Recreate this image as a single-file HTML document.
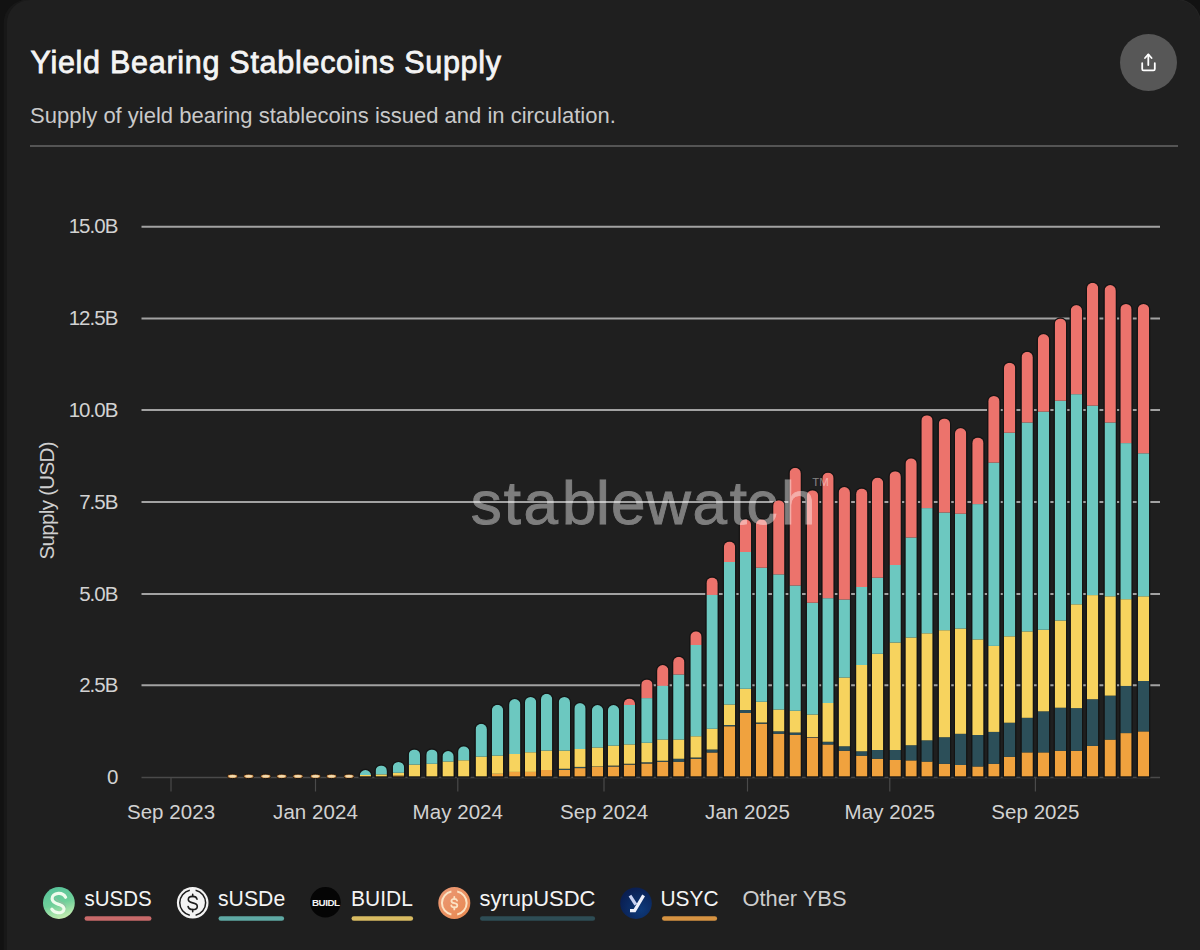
<!DOCTYPE html>
<html><head><meta charset="utf-8"><style>
html,body{margin:0;padding:0;background:#111;}
body{width:1200px;height:950px;overflow:hidden;position:relative;font-family:"Liberation Sans",sans-serif;}
.edge{position:absolute;left:0;top:0;width:1200px;height:950px;background:#121212;}
.card{position:absolute;left:6.8px;top:0px;width:1193.2px;height:1000px;background:#1f1f1f;border-radius:23px;box-shadow:-3.3px 0 0 #181818, 0 0 0 0.8px #262626;}
.title{position:absolute;left:30.5px;top:45px;color:#f4f4f4;font-size:30.5px;-webkit-text-stroke:0.8px #f4f4f4;letter-spacing:0.72px;white-space:nowrap;}
.sub{position:absolute;left:30px;top:102.5px;color:#c9c9c9;font-size:22px;letter-spacing:0px;white-space:nowrap;}
.rule{position:absolute;left:30px;top:144.5px;width:1147.5px;height:2px;background:#545454;}
.share{position:absolute;left:1120px;top:33.5px;width:57px;height:57px;border-radius:50%;background:#575757;}
svg.chart{position:absolute;left:0;top:0;}
.legend{position:absolute;left:0;top:0;}
</style></head><body>
<div class="edge"></div>
<div class="card"></div>
<div class="title">Yield Bearing Stablecoins Supply</div>
<div class="sub">Supply of yield bearing stablecoins issued and in circulation.</div>
<div class="rule"></div>
<div class="share"><svg width="57" height="57" viewBox="0 0 57 57"><g fill="none" stroke="#fff" stroke-width="1.8" stroke-linecap="round" stroke-linejoin="round"><path d="M22.2 29.2 V35 Q22.2 36.4 23.6 36.4 H33.4 Q34.8 36.4 34.8 35 V29.2"/><path d="M28.3 31 V20.6"/><path d="M25 24 L28.3 20.4 L31.6 24"/></g></svg></div>
<svg class="chart" width="1200" height="950" viewBox="0 0 1200 950">
<g><line x1="141.5" y1="226.7" x2="1160" y2="226.7" stroke="#a2a2a2" stroke-width="2"/><line x1="141.5" y1="318.6" x2="1160" y2="318.6" stroke="#a2a2a2" stroke-width="2"/><line x1="141.5" y1="410.1" x2="1160" y2="410.1" stroke="#a2a2a2" stroke-width="2"/><line x1="141.5" y1="502.0" x2="1160" y2="502.0" stroke="#a2a2a2" stroke-width="2"/><line x1="141.5" y1="594.0" x2="1160" y2="594.0" stroke="#a2a2a2" stroke-width="2"/><line x1="141.5" y1="685.3" x2="1160" y2="685.3" stroke="#a2a2a2" stroke-width="2"/></g>
<line x1="141.5" y1="777.5" x2="1160" y2="777.5" stroke="#4a4a4a" stroke-width="1.5"/>
<line x1="171" y1="777.5" x2="171" y2="791.5" stroke="#4a4a4a" stroke-width="1.2"/><line x1="315.5" y1="777.5" x2="315.5" y2="791.5" stroke="#4a4a4a" stroke-width="1.2"/><line x1="457.8" y1="777.5" x2="457.8" y2="791.5" stroke="#4a4a4a" stroke-width="1.2"/><line x1="604" y1="777.5" x2="604" y2="791.5" stroke="#4a4a4a" stroke-width="1.2"/><line x1="747.5" y1="777.5" x2="747.5" y2="791.5" stroke="#4a4a4a" stroke-width="1.2"/><line x1="889.8" y1="777.5" x2="889.8" y2="791.5" stroke="#4a4a4a" stroke-width="1.2"/><line x1="1035.4" y1="777.5" x2="1035.4" y2="791.5" stroke="#4a4a4a" stroke-width="1.2"/>
<g fill="#d2d2d2" font-family="Liberation Sans" font-size="20.5" letter-spacing="-0.95"><text x="117.5" y="233.3" text-anchor="end">15.0B</text><text x="117.5" y="325.2" text-anchor="end">12.5B</text><text x="117.5" y="416.7" text-anchor="end">10.0B</text><text x="117.5" y="508.6" text-anchor="end">7.5B</text><text x="117.5" y="600.6" text-anchor="end">5.0B</text><text x="117.5" y="691.9" text-anchor="end">2.5B</text><text x="117.5" y="784.2" text-anchor="end">0</text></g>
<text transform="translate(54.2 500.8) rotate(-90)" text-anchor="middle" fill="#cfcfcf" font-family="Liberation Sans" font-size="20.6" letter-spacing="-0.72">Supply (USD)</text>
<g fill="#d2d2d2" font-family="Liberation Sans" font-size="20.5" letter-spacing="0.05"><text x="171" y="819" text-anchor="middle">Sep 2023</text><text x="315.5" y="819" text-anchor="middle">Jan 2024</text><text x="457.8" y="819" text-anchor="middle">May 2024</text><text x="604" y="819" text-anchor="middle">Sep 2024</text><text x="747.5" y="819" text-anchor="middle">Jan 2025</text><text x="889.8" y="819" text-anchor="middle">May 2025</text><text x="1035.4" y="819" text-anchor="middle">Sep 2025</text></g>
<defs></defs>
<ellipse cx="232.50" cy="776.3" rx="5.2" ry="2.3" fill="#c98a48" stroke="#1a1410" stroke-width="1"/><ellipse cx="232.50" cy="776.3" rx="3.6" ry="1.3" fill="#f2dcb0"/>
<ellipse cx="248.75" cy="776.3" rx="5.2" ry="2.3" fill="#c98a48" stroke="#1a1410" stroke-width="1"/><ellipse cx="248.75" cy="776.3" rx="3.6" ry="1.3" fill="#f2dcb0"/>
<ellipse cx="265.75" cy="776.3" rx="5.2" ry="2.3" fill="#c98a48" stroke="#1a1410" stroke-width="1"/><ellipse cx="265.75" cy="776.3" rx="3.6" ry="1.3" fill="#f2dcb0"/>
<ellipse cx="281.75" cy="776.3" rx="5.2" ry="2.3" fill="#c98a48" stroke="#1a1410" stroke-width="1"/><ellipse cx="281.75" cy="776.3" rx="3.6" ry="1.3" fill="#f2dcb0"/>
<ellipse cx="298.00" cy="776.3" rx="5.2" ry="2.3" fill="#c98a48" stroke="#1a1410" stroke-width="1"/><ellipse cx="298.00" cy="776.3" rx="3.6" ry="1.3" fill="#f2dcb0"/>
<ellipse cx="315.50" cy="776.3" rx="5.2" ry="2.3" fill="#c98a48" stroke="#1a1410" stroke-width="1"/><ellipse cx="315.50" cy="776.3" rx="3.6" ry="1.3" fill="#f2dcb0"/>
<ellipse cx="331.50" cy="776.3" rx="5.2" ry="2.3" fill="#c98a48" stroke="#1a1410" stroke-width="1"/><ellipse cx="331.50" cy="776.3" rx="3.6" ry="1.3" fill="#f2dcb0"/>
<ellipse cx="349.00" cy="776.3" rx="5.2" ry="2.3" fill="#c98a48" stroke="#1a1410" stroke-width="1"/><ellipse cx="349.00" cy="776.3" rx="3.6" ry="1.3" fill="#f2dcb0"/>
<path d="M359.75 776.6 V775.65 A5.65 5.65 0 0 1 371.05 775.65 V776.6 Z" fill="none" stroke="#141414" stroke-width="2.4"/><clipPath id="cb8"><path d="M359.75 776.6 V775.65 A5.65 5.65 0 0 1 371.05 775.65 V776.6 Z"/></clipPath><g clip-path="url(#cb8)"><rect x="359.75" y="775.00" width="11.3" height="1.60" fill="#f7d35e"/><rect x="359.75" y="770.00" width="11.3" height="5.00" fill="#6cc8c0"/></g>
<path d="M375.60 776.6 V771.05 A5.65 5.65 0 0 1 386.90 771.05 V776.6 Z" fill="none" stroke="#141414" stroke-width="2.4"/><clipPath id="cb9"><path d="M375.60 776.6 V771.05 A5.65 5.65 0 0 1 386.90 771.05 V776.6 Z"/></clipPath><g clip-path="url(#cb9)"><rect x="375.60" y="774.40" width="11.3" height="2.20" fill="#f7d35e"/><rect x="375.60" y="765.40" width="11.3" height="9.00" fill="#6cc8c0"/></g>
<path d="M392.85 776.6 V767.55 A5.65 5.65 0 0 1 404.15 767.55 V776.6 Z" fill="none" stroke="#141414" stroke-width="2.4"/><clipPath id="cb10"><path d="M392.85 776.6 V767.55 A5.65 5.65 0 0 1 404.15 767.55 V776.6 Z"/></clipPath><g clip-path="url(#cb10)"><rect x="392.85" y="775.50" width="11.3" height="1.10" fill="#f0a23e"/><rect x="392.85" y="772.75" width="11.3" height="2.75" fill="#f7d35e"/><rect x="392.85" y="761.90" width="11.3" height="10.85" fill="#6cc8c0"/></g>
<path d="M408.75 776.6 V755.05 A5.65 5.65 0 0 1 420.05 755.05 V776.6 Z" fill="none" stroke="#141414" stroke-width="2.4"/><clipPath id="cb11"><path d="M408.75 776.6 V755.05 A5.65 5.65 0 0 1 420.05 755.05 V776.6 Z"/></clipPath><g clip-path="url(#cb11)"><rect x="408.75" y="764.60" width="11.3" height="12.00" fill="#f7d35e"/><rect x="408.75" y="749.40" width="11.3" height="15.20" fill="#6cc8c0"/></g>
<path d="M426.25 776.6 V755.05 A5.65 5.65 0 0 1 437.55 755.05 V776.6 Z" fill="none" stroke="#141414" stroke-width="2.4"/><clipPath id="cb12"><path d="M426.25 776.6 V755.05 A5.65 5.65 0 0 1 437.55 755.05 V776.6 Z"/></clipPath><g clip-path="url(#cb12)"><rect x="426.25" y="763.75" width="11.3" height="12.85" fill="#f7d35e"/><rect x="426.25" y="749.40" width="11.3" height="14.35" fill="#6cc8c0"/></g>
<path d="M442.45 776.6 V756.65 A5.65 5.65 0 0 1 453.75 756.65 V776.6 Z" fill="none" stroke="#141414" stroke-width="2.4"/><clipPath id="cb13"><path d="M442.45 776.6 V756.65 A5.65 5.65 0 0 1 453.75 756.65 V776.6 Z"/></clipPath><g clip-path="url(#cb13)"><rect x="442.45" y="761.50" width="11.3" height="15.10" fill="#f7d35e"/><rect x="442.45" y="751.00" width="11.3" height="10.50" fill="#6cc8c0"/></g>
<path d="M458.10 776.6 V751.90 A5.65 5.65 0 0 1 469.40 751.90 V776.6 Z" fill="none" stroke="#141414" stroke-width="2.4"/><clipPath id="cb14"><path d="M458.10 776.6 V751.90 A5.65 5.65 0 0 1 469.40 751.90 V776.6 Z"/></clipPath><g clip-path="url(#cb14)"><rect x="458.10" y="760.25" width="11.3" height="16.35" fill="#f7d35e"/><rect x="458.10" y="746.25" width="11.3" height="14.00" fill="#6cc8c0"/></g>
<path d="M475.60 776.6 V729.40 A5.65 5.65 0 0 1 486.90 729.40 V776.6 Z" fill="none" stroke="#141414" stroke-width="2.4"/><clipPath id="cb15"><path d="M475.60 776.6 V729.40 A5.65 5.65 0 0 1 486.90 729.40 V776.6 Z"/></clipPath><g clip-path="url(#cb15)"><rect x="475.60" y="756.60" width="11.3" height="20.00" fill="#f7d35e"/><rect x="475.60" y="723.75" width="11.3" height="32.85" fill="#6cc8c0"/></g>
<path d="M491.85 776.6 V710.40 A5.65 5.65 0 0 1 503.15 710.40 V776.6 Z" fill="none" stroke="#141414" stroke-width="2.4"/><clipPath id="cb16"><path d="M491.85 776.6 V710.40 A5.65 5.65 0 0 1 503.15 710.40 V776.6 Z"/></clipPath><g clip-path="url(#cb16)"><rect x="491.85" y="773.75" width="11.3" height="2.85" fill="#f0a23e"/><rect x="491.85" y="755.60" width="11.3" height="18.15" fill="#f7d35e"/><rect x="491.85" y="704.75" width="11.3" height="50.85" fill="#6cc8c0"/></g>
<path d="M509.10 776.6 V704.65 A5.65 5.65 0 0 1 520.40 704.65 V776.6 Z" fill="none" stroke="#141414" stroke-width="2.4"/><clipPath id="cb17"><path d="M509.10 776.6 V704.65 A5.65 5.65 0 0 1 520.40 704.65 V776.6 Z"/></clipPath><g clip-path="url(#cb17)"><rect x="509.10" y="771.90" width="11.3" height="4.70" fill="#f0a23e"/><rect x="509.10" y="754.00" width="11.3" height="17.90" fill="#f7d35e"/><rect x="509.10" y="699.00" width="11.3" height="55.00" fill="#6cc8c0"/></g>
<path d="M524.95 776.6 V702.55 A5.65 5.65 0 0 1 536.25 702.55 V776.6 Z" fill="none" stroke="#141414" stroke-width="2.4"/><clipPath id="cb18"><path d="M524.95 776.6 V702.55 A5.65 5.65 0 0 1 536.25 702.55 V776.6 Z"/></clipPath><g clip-path="url(#cb18)"><rect x="524.95" y="771.90" width="11.3" height="4.70" fill="#f0a23e"/><rect x="524.95" y="752.25" width="11.3" height="19.65" fill="#f7d35e"/><rect x="524.95" y="696.90" width="11.3" height="55.35" fill="#6cc8c0"/></g>
<path d="M540.95 776.6 V699.40 A5.65 5.65 0 0 1 552.25 699.40 V776.6 Z" fill="none" stroke="#141414" stroke-width="2.4"/><clipPath id="cb19"><path d="M540.95 776.6 V699.40 A5.65 5.65 0 0 1 552.25 699.40 V776.6 Z"/></clipPath><g clip-path="url(#cb19)"><rect x="540.95" y="770.00" width="11.3" height="6.60" fill="#f0a23e"/><rect x="540.95" y="750.60" width="11.3" height="19.40" fill="#f7d35e"/><rect x="540.95" y="693.75" width="11.3" height="56.85" fill="#6cc8c0"/></g>
<path d="M558.75 776.6 V702.55 A5.65 5.65 0 0 1 570.05 702.55 V776.6 Z" fill="none" stroke="#141414" stroke-width="2.4"/><clipPath id="cb20"><path d="M558.75 776.6 V702.55 A5.65 5.65 0 0 1 570.05 702.55 V776.6 Z"/></clipPath><g clip-path="url(#cb20)"><rect x="558.75" y="770.00" width="11.3" height="6.60" fill="#f0a23e"/><rect x="558.75" y="768.75" width="11.3" height="1.25" fill="#2c4f59"/><rect x="558.75" y="750.60" width="11.3" height="18.15" fill="#f7d35e"/><rect x="558.75" y="696.90" width="11.3" height="53.70" fill="#6cc8c0"/></g>
<path d="M574.35 776.6 V708.75 A5.65 5.65 0 0 1 585.65 708.75 V776.6 Z" fill="none" stroke="#141414" stroke-width="2.4"/><clipPath id="cb21"><path d="M574.35 776.6 V708.75 A5.65 5.65 0 0 1 585.65 708.75 V776.6 Z"/></clipPath><g clip-path="url(#cb21)"><rect x="574.35" y="768.10" width="11.3" height="8.50" fill="#f0a23e"/><rect x="574.35" y="766.90" width="11.3" height="1.20" fill="#2c4f59"/><rect x="574.35" y="749.00" width="11.3" height="17.90" fill="#f7d35e"/><rect x="574.35" y="703.10" width="11.3" height="45.90" fill="#6cc8c0"/></g>
<path d="M591.85 776.6 V710.65 A5.65 5.65 0 0 1 603.15 710.65 V776.6 Z" fill="none" stroke="#141414" stroke-width="2.4"/><clipPath id="cb22"><path d="M591.85 776.6 V710.65 A5.65 5.65 0 0 1 603.15 710.65 V776.6 Z"/></clipPath><g clip-path="url(#cb22)"><rect x="591.85" y="766.90" width="11.3" height="9.70" fill="#f0a23e"/><rect x="591.85" y="766.50" width="11.3" height="0.40" fill="#2c4f59"/><rect x="591.85" y="747.50" width="11.3" height="19.00" fill="#f7d35e"/><rect x="591.85" y="705.00" width="11.3" height="42.50" fill="#6cc8c0"/></g>
<path d="M607.85 776.6 V710.65 A5.65 5.65 0 0 1 619.15 710.65 V776.6 Z" fill="none" stroke="#141414" stroke-width="2.4"/><clipPath id="cb23"><path d="M607.85 776.6 V710.65 A5.65 5.65 0 0 1 619.15 710.65 V776.6 Z"/></clipPath><g clip-path="url(#cb23)"><rect x="607.85" y="766.50" width="11.3" height="10.10" fill="#f0a23e"/><rect x="607.85" y="765.60" width="11.3" height="0.90" fill="#2c4f59"/><rect x="607.85" y="745.60" width="11.3" height="20.00" fill="#f7d35e"/><rect x="607.85" y="705.00" width="11.3" height="40.60" fill="#6cc8c0"/></g>
<path d="M623.75 776.6 V704.15 A5.65 5.65 0 0 1 635.05 704.15 V776.6 Z" fill="none" stroke="#141414" stroke-width="2.4"/><clipPath id="cb24"><path d="M623.75 776.6 V704.15 A5.65 5.65 0 0 1 635.05 704.15 V776.6 Z"/></clipPath><g clip-path="url(#cb24)"><rect x="623.75" y="764.60" width="11.3" height="12.00" fill="#f0a23e"/><rect x="623.75" y="763.75" width="11.3" height="0.85" fill="#2c4f59"/><rect x="623.75" y="744.40" width="11.3" height="19.35" fill="#f7d35e"/><rect x="623.75" y="705.00" width="11.3" height="39.40" fill="#6cc8c0"/><rect x="623.75" y="698.50" width="11.3" height="6.50" fill="#ec736c"/></g>
<path d="M641.25 776.6 V685.05 A5.65 5.65 0 0 1 652.55 685.05 V776.6 Z" fill="none" stroke="#141414" stroke-width="2.4"/><clipPath id="cb25"><path d="M641.25 776.6 V685.05 A5.65 5.65 0 0 1 652.55 685.05 V776.6 Z"/></clipPath><g clip-path="url(#cb25)"><rect x="641.25" y="763.50" width="11.3" height="13.10" fill="#f0a23e"/><rect x="641.25" y="762.25" width="11.3" height="1.25" fill="#2c4f59"/><rect x="641.25" y="742.75" width="11.3" height="19.50" fill="#f7d35e"/><rect x="641.25" y="698.10" width="11.3" height="44.65" fill="#6cc8c0"/><rect x="641.25" y="679.40" width="11.3" height="18.70" fill="#ec736c"/></g>
<path d="M657.10 776.6 V670.65 A5.65 5.65 0 0 1 668.40 670.65 V776.6 Z" fill="none" stroke="#141414" stroke-width="2.4"/><clipPath id="cb26"><path d="M657.10 776.6 V670.65 A5.65 5.65 0 0 1 668.40 670.65 V776.6 Z"/></clipPath><g clip-path="url(#cb26)"><rect x="657.10" y="761.75" width="11.3" height="14.85" fill="#f0a23e"/><rect x="657.10" y="760.75" width="11.3" height="1.00" fill="#2c4f59"/><rect x="657.10" y="739.50" width="11.3" height="21.25" fill="#f7d35e"/><rect x="657.10" y="685.75" width="11.3" height="53.75" fill="#6cc8c0"/><rect x="657.10" y="665.00" width="11.3" height="20.75" fill="#ec736c"/></g>
<path d="M673.15 776.6 V662.40 A5.65 5.65 0 0 1 684.45 662.40 V776.6 Z" fill="none" stroke="#141414" stroke-width="2.4"/><clipPath id="cb27"><path d="M673.15 776.6 V662.40 A5.65 5.65 0 0 1 684.45 662.40 V776.6 Z"/></clipPath><g clip-path="url(#cb27)"><rect x="673.15" y="761.75" width="11.3" height="14.85" fill="#f0a23e"/><rect x="673.15" y="758.75" width="11.3" height="3.00" fill="#2c4f59"/><rect x="673.15" y="739.50" width="11.3" height="19.25" fill="#f7d35e"/><rect x="673.15" y="674.50" width="11.3" height="65.00" fill="#6cc8c0"/><rect x="673.15" y="656.75" width="11.3" height="17.75" fill="#ec736c"/></g>
<path d="M690.35 776.6 V636.90 A5.65 5.65 0 0 1 701.65 636.90 V776.6 Z" fill="none" stroke="#141414" stroke-width="2.4"/><clipPath id="cb28"><path d="M690.35 776.6 V636.90 A5.65 5.65 0 0 1 701.65 636.90 V776.6 Z"/></clipPath><g clip-path="url(#cb28)"><rect x="690.35" y="758.75" width="11.3" height="17.85" fill="#f0a23e"/><rect x="690.35" y="757.50" width="11.3" height="1.25" fill="#2c4f59"/><rect x="690.35" y="736.25" width="11.3" height="21.25" fill="#f7d35e"/><rect x="690.35" y="645.00" width="11.3" height="91.25" fill="#6cc8c0"/><rect x="690.35" y="631.25" width="11.3" height="13.75" fill="#ec736c"/></g>
<path d="M706.45 776.6 V583.15 A5.65 5.65 0 0 1 717.75 583.15 V776.6 Z" fill="none" stroke="#141414" stroke-width="2.4"/><clipPath id="cb29"><path d="M706.45 776.6 V583.15 A5.65 5.65 0 0 1 717.75 583.15 V776.6 Z"/></clipPath><g clip-path="url(#cb29)"><rect x="706.45" y="752.50" width="11.3" height="24.10" fill="#f0a23e"/><rect x="706.45" y="749.50" width="11.3" height="3.00" fill="#2c4f59"/><rect x="706.45" y="728.75" width="11.3" height="20.75" fill="#f7d35e"/><rect x="706.45" y="594.90" width="11.3" height="133.85" fill="#6cc8c0"/><rect x="706.45" y="577.50" width="11.3" height="17.40" fill="#ec736c"/></g>
<path d="M723.85 776.6 V547.15 A5.65 5.65 0 0 1 735.15 547.15 V776.6 Z" fill="none" stroke="#141414" stroke-width="2.4"/><clipPath id="cb30"><path d="M723.85 776.6 V547.15 A5.65 5.65 0 0 1 735.15 547.15 V776.6 Z"/></clipPath><g clip-path="url(#cb30)"><rect x="723.85" y="726.25" width="11.3" height="50.35" fill="#f0a23e"/><rect x="723.85" y="725.00" width="11.3" height="1.25" fill="#2c4f59"/><rect x="723.85" y="704.50" width="11.3" height="20.50" fill="#f7d35e"/><rect x="723.85" y="562.00" width="11.3" height="142.50" fill="#6cc8c0"/><rect x="723.85" y="541.50" width="11.3" height="20.50" fill="#ec736c"/></g>
<path d="M739.85 776.6 V524.95 A5.65 5.65 0 0 1 751.15 524.95 V776.6 Z" fill="none" stroke="#141414" stroke-width="2.4"/><clipPath id="cb31"><path d="M739.85 776.6 V524.95 A5.65 5.65 0 0 1 751.15 524.95 V776.6 Z"/></clipPath><g clip-path="url(#cb31)"><rect x="739.85" y="713.00" width="11.3" height="63.60" fill="#f0a23e"/><rect x="739.85" y="710.00" width="11.3" height="3.00" fill="#2c4f59"/><rect x="739.85" y="688.75" width="11.3" height="21.25" fill="#f7d35e"/><rect x="739.85" y="552.00" width="11.3" height="136.75" fill="#6cc8c0"/><rect x="739.85" y="519.30" width="11.3" height="32.70" fill="#ec736c"/></g>
<path d="M755.85 776.6 V524.95 A5.65 5.65 0 0 1 767.15 524.95 V776.6 Z" fill="none" stroke="#141414" stroke-width="2.4"/><clipPath id="cb32"><path d="M755.85 776.6 V524.95 A5.65 5.65 0 0 1 767.15 524.95 V776.6 Z"/></clipPath><g clip-path="url(#cb32)"><rect x="755.85" y="723.75" width="11.3" height="52.85" fill="#f0a23e"/><rect x="755.85" y="722.50" width="11.3" height="1.25" fill="#2c4f59"/><rect x="755.85" y="701.75" width="11.3" height="20.75" fill="#f7d35e"/><rect x="755.85" y="567.70" width="11.3" height="134.05" fill="#6cc8c0"/><rect x="755.85" y="519.30" width="11.3" height="48.40" fill="#ec736c"/></g>
<path d="M773.15 776.6 V505.85 A5.65 5.65 0 0 1 784.45 505.85 V776.6 Z" fill="none" stroke="#141414" stroke-width="2.4"/><clipPath id="cb33"><path d="M773.15 776.6 V505.85 A5.65 5.65 0 0 1 784.45 505.85 V776.6 Z"/></clipPath><g clip-path="url(#cb33)"><rect x="773.15" y="733.75" width="11.3" height="42.85" fill="#f0a23e"/><rect x="773.15" y="731.25" width="11.3" height="2.50" fill="#2c4f59"/><rect x="773.15" y="709.50" width="11.3" height="21.75" fill="#f7d35e"/><rect x="773.15" y="574.40" width="11.3" height="135.10" fill="#6cc8c0"/><rect x="773.15" y="500.20" width="11.3" height="74.20" fill="#ec736c"/></g>
<path d="M789.55 776.6 V473.45 A5.65 5.65 0 0 1 800.85 473.45 V776.6 Z" fill="none" stroke="#141414" stroke-width="2.4"/><clipPath id="cb34"><path d="M789.55 776.6 V473.45 A5.65 5.65 0 0 1 800.85 473.45 V776.6 Z"/></clipPath><g clip-path="url(#cb34)"><rect x="789.55" y="735.00" width="11.3" height="41.60" fill="#f0a23e"/><rect x="789.55" y="732.50" width="11.3" height="2.50" fill="#2c4f59"/><rect x="789.55" y="710.75" width="11.3" height="21.75" fill="#f7d35e"/><rect x="789.55" y="585.50" width="11.3" height="125.25" fill="#6cc8c0"/><rect x="789.55" y="467.80" width="11.3" height="117.70" fill="#ec736c"/></g>
<path d="M806.85 776.6 V495.85 A5.65 5.65 0 0 1 818.15 495.85 V776.6 Z" fill="none" stroke="#141414" stroke-width="2.4"/><clipPath id="cb35"><path d="M806.85 776.6 V495.85 A5.65 5.65 0 0 1 818.15 495.85 V776.6 Z"/></clipPath><g clip-path="url(#cb35)"><rect x="806.85" y="737.50" width="11.3" height="39.10" fill="#f0a23e"/><rect x="806.85" y="737.00" width="11.3" height="0.50" fill="#2c4f59"/><rect x="806.85" y="714.50" width="11.3" height="22.50" fill="#f7d35e"/><rect x="806.85" y="602.70" width="11.3" height="111.80" fill="#6cc8c0"/><rect x="806.85" y="490.20" width="11.3" height="112.50" fill="#ec736c"/></g>
<path d="M822.35 776.6 V478.25 A5.65 5.65 0 0 1 833.65 478.25 V776.6 Z" fill="none" stroke="#141414" stroke-width="2.4"/><clipPath id="cb36"><path d="M822.35 776.6 V478.25 A5.65 5.65 0 0 1 833.65 478.25 V776.6 Z"/></clipPath><g clip-path="url(#cb36)"><rect x="822.35" y="744.50" width="11.3" height="32.10" fill="#f0a23e"/><rect x="822.35" y="741.75" width="11.3" height="2.75" fill="#2c4f59"/><rect x="822.35" y="703.00" width="11.3" height="38.75" fill="#f7d35e"/><rect x="822.35" y="598.20" width="11.3" height="104.80" fill="#6cc8c0"/><rect x="822.35" y="472.60" width="11.3" height="125.60" fill="#ec736c"/></g>
<path d="M838.65 776.6 V492.65 A5.65 5.65 0 0 1 849.95 492.65 V776.6 Z" fill="none" stroke="#141414" stroke-width="2.4"/><clipPath id="cb37"><path d="M838.65 776.6 V492.65 A5.65 5.65 0 0 1 849.95 492.65 V776.6 Z"/></clipPath><g clip-path="url(#cb37)"><rect x="838.65" y="750.75" width="11.3" height="25.85" fill="#f0a23e"/><rect x="838.65" y="746.25" width="11.3" height="4.50" fill="#2c4f59"/><rect x="838.65" y="677.50" width="11.3" height="68.75" fill="#f7d35e"/><rect x="838.65" y="599.50" width="11.3" height="78.00" fill="#6cc8c0"/><rect x="838.65" y="487.00" width="11.3" height="112.50" fill="#ec736c"/></g>
<path d="M856.10 776.6 V494.15 A5.65 5.65 0 0 1 867.40 494.15 V776.6 Z" fill="none" stroke="#141414" stroke-width="2.4"/><clipPath id="cb38"><path d="M856.10 776.6 V494.15 A5.65 5.65 0 0 1 867.40 494.15 V776.6 Z"/></clipPath><g clip-path="url(#cb38)"><rect x="856.10" y="755.75" width="11.3" height="20.85" fill="#f0a23e"/><rect x="856.10" y="751.25" width="11.3" height="4.50" fill="#2c4f59"/><rect x="856.10" y="665.00" width="11.3" height="86.25" fill="#f7d35e"/><rect x="856.10" y="587.00" width="11.3" height="78.00" fill="#6cc8c0"/><rect x="856.10" y="488.50" width="11.3" height="98.50" fill="#ec736c"/></g>
<path d="M871.95 776.6 V483.25 A5.65 5.65 0 0 1 883.25 483.25 V776.6 Z" fill="none" stroke="#141414" stroke-width="2.4"/><clipPath id="cb39"><path d="M871.95 776.6 V483.25 A5.65 5.65 0 0 1 883.25 483.25 V776.6 Z"/></clipPath><g clip-path="url(#cb39)"><rect x="871.95" y="758.75" width="11.3" height="17.85" fill="#f0a23e"/><rect x="871.95" y="750.00" width="11.3" height="8.75" fill="#2c4f59"/><rect x="871.95" y="653.75" width="11.3" height="96.25" fill="#f7d35e"/><rect x="871.95" y="577.70" width="11.3" height="76.05" fill="#6cc8c0"/><rect x="871.95" y="477.60" width="11.3" height="100.10" fill="#ec736c"/></g>
<path d="M889.55 776.6 V476.85 A5.65 5.65 0 0 1 900.85 476.85 V776.6 Z" fill="none" stroke="#141414" stroke-width="2.4"/><clipPath id="cb40"><path d="M889.55 776.6 V476.85 A5.65 5.65 0 0 1 900.85 476.85 V776.6 Z"/></clipPath><g clip-path="url(#cb40)"><rect x="889.55" y="760.00" width="11.3" height="16.60" fill="#f0a23e"/><rect x="889.55" y="750.00" width="11.3" height="10.00" fill="#2c4f59"/><rect x="889.55" y="642.50" width="11.3" height="107.50" fill="#f7d35e"/><rect x="889.55" y="565.00" width="11.3" height="77.50" fill="#6cc8c0"/><rect x="889.55" y="471.20" width="11.3" height="93.80" fill="#ec736c"/></g>
<path d="M905.45 776.6 V463.95 A5.65 5.65 0 0 1 916.75 463.95 V776.6 Z" fill="none" stroke="#141414" stroke-width="2.4"/><clipPath id="cb41"><path d="M905.45 776.6 V463.95 A5.65 5.65 0 0 1 916.75 463.95 V776.6 Z"/></clipPath><g clip-path="url(#cb41)"><rect x="905.45" y="760.40" width="11.3" height="16.20" fill="#f0a23e"/><rect x="905.45" y="745.20" width="11.3" height="15.20" fill="#2c4f59"/><rect x="905.45" y="637.50" width="11.3" height="107.70" fill="#f7d35e"/><rect x="905.45" y="537.50" width="11.3" height="100.00" fill="#6cc8c0"/><rect x="905.45" y="458.30" width="11.3" height="79.20" fill="#ec736c"/></g>
<path d="M921.35 776.6 V420.85 A5.65 5.65 0 0 1 932.65 420.85 V776.6 Z" fill="none" stroke="#141414" stroke-width="2.4"/><clipPath id="cb42"><path d="M921.35 776.6 V420.85 A5.65 5.65 0 0 1 932.65 420.85 V776.6 Z"/></clipPath><g clip-path="url(#cb42)"><rect x="921.35" y="761.60" width="11.3" height="15.00" fill="#f0a23e"/><rect x="921.35" y="740.30" width="11.3" height="21.30" fill="#2c4f59"/><rect x="921.35" y="633.30" width="11.3" height="107.00" fill="#f7d35e"/><rect x="921.35" y="508.10" width="11.3" height="125.20" fill="#6cc8c0"/><rect x="921.35" y="415.20" width="11.3" height="92.90" fill="#ec736c"/></g>
<path d="M938.75 776.6 V424.05 A5.65 5.65 0 0 1 950.05 424.05 V776.6 Z" fill="none" stroke="#141414" stroke-width="2.4"/><clipPath id="cb43"><path d="M938.75 776.6 V424.05 A5.65 5.65 0 0 1 950.05 424.05 V776.6 Z"/></clipPath><g clip-path="url(#cb43)"><rect x="938.75" y="763.80" width="11.3" height="12.80" fill="#f0a23e"/><rect x="938.75" y="737.20" width="11.3" height="26.60" fill="#2c4f59"/><rect x="938.75" y="630.20" width="11.3" height="107.00" fill="#f7d35e"/><rect x="938.75" y="512.50" width="11.3" height="117.70" fill="#6cc8c0"/><rect x="938.75" y="418.40" width="11.3" height="94.10" fill="#ec736c"/></g>
<path d="M954.95 776.6 V433.75 A5.65 5.65 0 0 1 966.25 433.75 V776.6 Z" fill="none" stroke="#141414" stroke-width="2.4"/><clipPath id="cb44"><path d="M954.95 776.6 V433.75 A5.65 5.65 0 0 1 966.25 433.75 V776.6 Z"/></clipPath><g clip-path="url(#cb44)"><rect x="954.95" y="765.00" width="11.3" height="11.60" fill="#f0a23e"/><rect x="954.95" y="733.80" width="11.3" height="31.20" fill="#2c4f59"/><rect x="954.95" y="628.50" width="11.3" height="105.30" fill="#f7d35e"/><rect x="954.95" y="513.70" width="11.3" height="114.80" fill="#6cc8c0"/><rect x="954.95" y="428.10" width="11.3" height="85.60" fill="#ec736c"/></g>
<path d="M972.25 776.6 V443.15 A5.65 5.65 0 0 1 983.55 443.15 V776.6 Z" fill="none" stroke="#141414" stroke-width="2.4"/><clipPath id="cb45"><path d="M972.25 776.6 V443.15 A5.65 5.65 0 0 1 983.55 443.15 V776.6 Z"/></clipPath><g clip-path="url(#cb45)"><rect x="972.25" y="766.50" width="11.3" height="10.10" fill="#f0a23e"/><rect x="972.25" y="735.00" width="11.3" height="31.50" fill="#2c4f59"/><rect x="972.25" y="639.40" width="11.3" height="95.60" fill="#f7d35e"/><rect x="972.25" y="504.10" width="11.3" height="135.30" fill="#6cc8c0"/><rect x="972.25" y="437.50" width="11.3" height="66.60" fill="#ec736c"/></g>
<path d="M988.25 776.6 V401.55 A5.65 5.65 0 0 1 999.55 401.55 V776.6 Z" fill="none" stroke="#141414" stroke-width="2.4"/><clipPath id="cb46"><path d="M988.25 776.6 V401.55 A5.65 5.65 0 0 1 999.55 401.55 V776.6 Z"/></clipPath><g clip-path="url(#cb46)"><rect x="988.25" y="763.80" width="11.3" height="12.80" fill="#f0a23e"/><rect x="988.25" y="731.90" width="11.3" height="31.90" fill="#2c4f59"/><rect x="988.25" y="645.90" width="11.3" height="86.00" fill="#f7d35e"/><rect x="988.25" y="462.60" width="11.3" height="183.30" fill="#6cc8c0"/><rect x="988.25" y="395.90" width="11.3" height="66.70" fill="#ec736c"/></g>
<path d="M1003.95 776.6 V368.35 A5.65 5.65 0 0 1 1015.25 368.35 V776.6 Z" fill="none" stroke="#141414" stroke-width="2.4"/><clipPath id="cb47"><path d="M1003.95 776.6 V368.35 A5.65 5.65 0 0 1 1015.25 368.35 V776.6 Z"/></clipPath><g clip-path="url(#cb47)"><rect x="1003.95" y="756.80" width="11.3" height="19.80" fill="#f0a23e"/><rect x="1003.95" y="722.70" width="11.3" height="34.10" fill="#2c4f59"/><rect x="1003.95" y="636.30" width="11.3" height="86.40" fill="#f7d35e"/><rect x="1003.95" y="432.70" width="11.3" height="203.60" fill="#6cc8c0"/><rect x="1003.95" y="362.70" width="11.3" height="70.00" fill="#ec736c"/></g>
<path d="M1021.55 776.6 V357.45 A5.65 5.65 0 0 1 1032.85 357.45 V776.6 Z" fill="none" stroke="#141414" stroke-width="2.4"/><clipPath id="cb48"><path d="M1021.55 776.6 V357.45 A5.65 5.65 0 0 1 1032.85 357.45 V776.6 Z"/></clipPath><g clip-path="url(#cb48)"><rect x="1021.55" y="752.40" width="11.3" height="24.20" fill="#f0a23e"/><rect x="1021.55" y="717.80" width="11.3" height="34.60" fill="#2c4f59"/><rect x="1021.55" y="631.40" width="11.3" height="86.40" fill="#f7d35e"/><rect x="1021.55" y="422.50" width="11.3" height="208.90" fill="#6cc8c0"/><rect x="1021.55" y="351.80" width="11.3" height="70.70" fill="#ec736c"/></g>
<path d="M1037.85 776.6 V339.75 A5.65 5.65 0 0 1 1049.15 339.75 V776.6 Z" fill="none" stroke="#141414" stroke-width="2.4"/><clipPath id="cb49"><path d="M1037.85 776.6 V339.75 A5.65 5.65 0 0 1 1049.15 339.75 V776.6 Z"/></clipPath><g clip-path="url(#cb49)"><rect x="1037.85" y="752.40" width="11.3" height="24.20" fill="#f0a23e"/><rect x="1037.85" y="711.30" width="11.3" height="41.10" fill="#2c4f59"/><rect x="1037.85" y="629.70" width="11.3" height="81.60" fill="#f7d35e"/><rect x="1037.85" y="411.60" width="11.3" height="218.10" fill="#6cc8c0"/><rect x="1037.85" y="334.10" width="11.3" height="77.50" fill="#ec736c"/></g>
<path d="M1054.75 776.6 V324.05 A5.65 5.65 0 0 1 1066.05 324.05 V776.6 Z" fill="none" stroke="#141414" stroke-width="2.4"/><clipPath id="cb50"><path d="M1054.75 776.6 V324.05 A5.65 5.65 0 0 1 1066.05 324.05 V776.6 Z"/></clipPath><g clip-path="url(#cb50)"><rect x="1054.75" y="750.80" width="11.3" height="25.80" fill="#f0a23e"/><rect x="1054.75" y="707.70" width="11.3" height="43.10" fill="#2c4f59"/><rect x="1054.75" y="620.50" width="11.3" height="87.20" fill="#f7d35e"/><rect x="1054.75" y="400.70" width="11.3" height="219.80" fill="#6cc8c0"/><rect x="1054.75" y="318.40" width="11.3" height="82.30" fill="#ec736c"/></g>
<path d="M1070.75 776.6 V310.75 A5.65 5.65 0 0 1 1082.05 310.75 V776.6 Z" fill="none" stroke="#141414" stroke-width="2.4"/><clipPath id="cb51"><path d="M1070.75 776.6 V310.75 A5.65 5.65 0 0 1 1082.05 310.75 V776.6 Z"/></clipPath><g clip-path="url(#cb51)"><rect x="1070.75" y="750.80" width="11.3" height="25.80" fill="#f0a23e"/><rect x="1070.75" y="708.10" width="11.3" height="42.70" fill="#2c4f59"/><rect x="1070.75" y="604.30" width="11.3" height="103.80" fill="#f7d35e"/><rect x="1070.75" y="394.20" width="11.3" height="210.10" fill="#6cc8c0"/><rect x="1070.75" y="305.10" width="11.3" height="89.10" fill="#ec736c"/></g>
<path d="M1086.95 776.6 V288.45 A5.65 5.65 0 0 1 1098.25 288.45 V776.6 Z" fill="none" stroke="#141414" stroke-width="2.4"/><clipPath id="cb52"><path d="M1086.95 776.6 V288.45 A5.65 5.65 0 0 1 1098.25 288.45 V776.6 Z"/></clipPath><g clip-path="url(#cb52)"><rect x="1086.95" y="745.90" width="11.3" height="30.70" fill="#f0a23e"/><rect x="1086.95" y="699.20" width="11.3" height="46.70" fill="#2c4f59"/><rect x="1086.95" y="595.10" width="11.3" height="104.10" fill="#f7d35e"/><rect x="1086.95" y="405.60" width="11.3" height="189.50" fill="#6cc8c0"/><rect x="1086.95" y="282.80" width="11.3" height="122.80" fill="#ec736c"/></g>
<path d="M1104.55 776.6 V290.65 A5.65 5.65 0 0 1 1115.85 290.65 V776.6 Z" fill="none" stroke="#141414" stroke-width="2.4"/><clipPath id="cb53"><path d="M1104.55 776.6 V290.65 A5.65 5.65 0 0 1 1115.85 290.65 V776.6 Z"/></clipPath><g clip-path="url(#cb53)"><rect x="1104.55" y="739.60" width="11.3" height="37.00" fill="#f0a23e"/><rect x="1104.55" y="695.60" width="11.3" height="44.00" fill="#2c4f59"/><rect x="1104.55" y="596.30" width="11.3" height="99.30" fill="#f7d35e"/><rect x="1104.55" y="422.50" width="11.3" height="173.80" fill="#6cc8c0"/><rect x="1104.55" y="285.00" width="11.3" height="137.50" fill="#ec736c"/></g>
<path d="M1120.35 776.6 V309.55 A5.65 5.65 0 0 1 1131.65 309.55 V776.6 Z" fill="none" stroke="#141414" stroke-width="2.4"/><clipPath id="cb54"><path d="M1120.35 776.6 V309.55 A5.65 5.65 0 0 1 1131.65 309.55 V776.6 Z"/></clipPath><g clip-path="url(#cb54)"><rect x="1120.35" y="733.10" width="11.3" height="43.50" fill="#f0a23e"/><rect x="1120.35" y="685.90" width="11.3" height="47.20" fill="#2c4f59"/><rect x="1120.35" y="599.20" width="11.3" height="86.70" fill="#f7d35e"/><rect x="1120.35" y="443.10" width="11.3" height="156.10" fill="#6cc8c0"/><rect x="1120.35" y="303.90" width="11.3" height="139.20" fill="#ec736c"/></g>
<path d="M1137.85 776.6 V309.55 A5.65 5.65 0 0 1 1149.15 309.55 V776.6 Z" fill="none" stroke="#141414" stroke-width="2.4"/><clipPath id="cb55"><path d="M1137.85 776.6 V309.55 A5.65 5.65 0 0 1 1149.15 309.55 V776.6 Z"/></clipPath><g clip-path="url(#cb55)"><rect x="1137.85" y="731.40" width="11.3" height="45.20" fill="#f0a23e"/><rect x="1137.85" y="681.00" width="11.3" height="50.40" fill="#2c4f59"/><rect x="1137.85" y="596.30" width="11.3" height="84.70" fill="#f7d35e"/><rect x="1137.85" y="453.30" width="11.3" height="143.00" fill="#6cc8c0"/><rect x="1137.85" y="303.90" width="11.3" height="149.40" fill="#ec736c"/></g>
<g opacity="0.42" fill="#ffffff" stroke="#ffffff" stroke-width="0.9" font-family="Liberation Sans" font-size="62"><text x="470.7" y="523.8">s</text><text x="503.8" y="523.8">t</text><text x="523.4" y="523.8">a</text><text x="562" y="523.8">b</text><text x="595.9" y="523.8">l</text><text x="610.9" y="523.8">e</text><text x="645.9" y="523.8">w</text><text x="692.4" y="523.8">a</text><text x="729.8" y="523.8">t</text><text x="746.5" y="523.8">c</text><text x="781" y="523.8">h</text></g>
<text x="812.3" y="485.6" fill="#ffffff" fill-opacity="0.45" font-family="Liberation Sans" font-size="11.5">TM</text>
</svg>
<svg class="legend" width="1200" height="950" viewBox="0 0 1200 950">
<defs>
<linearGradient id="gs" x1="0.2" y1="0" x2="0.5" y2="1"><stop offset="0" stop-color="#56c29a"/><stop offset="0.55" stop-color="#6fd09a"/><stop offset="1" stop-color="#c3ecb0"/></linearGradient>
<linearGradient id="gy" x1="0" y1="0" x2="1" y2="1"><stop offset="0" stop-color="#eb9a78"/><stop offset="1" stop-color="#e8884e"/></linearGradient>
<radialGradient id="gu" cx="0.65" cy="0.7" r="0.7"><stop offset="0" stop-color="#0d3a7a"/><stop offset="1" stop-color="#0a1f52"/></radialGradient>
</defs>
<circle cx="58.9" cy="903" r="15.9" fill="url(#gs)"/>
<path d="M65.6 897.2 C64 894.4 61.2 893.2 58.3 893.4 C54.3 893.7 51.9 896 52.1 899 C52.4 902.6 56.4 903.6 59.4 904.6 C62.4 905.7 64.2 907 64 909.2 C63.8 911.9 60.8 913 57.6 912.7 C55 912.4 53.2 911.2 51.8 909.2" fill="none" stroke="#effcec" stroke-width="3.2" stroke-linecap="round"/>
<path d="M55.6 897.6 C55.9 900.2 58.2 901.1 61 902.2 C63.6 903.2 65.6 904.8 65.6 907.4" fill="none" stroke="#93b9a2" stroke-width="1.1" opacity="0.9"/>
<circle cx="192.7" cy="902.8" r="15.8" fill="#f3f3f3"/>
<path d="M189.8 890.3 A12.8 12.8 0 0 0 189.8 915.3 M195.6 890.3 A12.8 12.8 0 0 1 195.6 915.3" fill="none" stroke="#1c1c1c" stroke-width="1.5"/>
<g transform="translate(192.7 902.8)" fill="none" stroke="#1c1c1c" stroke-width="1.6" stroke-linecap="round">
<path d="M4.3 -3.6 C3.9 -5.5 2.2 -6.4 0 -6.4 C-2.6 -6.4 -4.4 -5.1 -4.4 -3.2 C-4.4 -1.1 -2.5 -0.4 0 0.1 C2.6 0.6 4.6 1.4 4.6 3.6 C4.6 5.6 2.6 6.7 0 6.7 C-2.4 6.7 -4.2 5.7 -4.6 3.7"/>
<path d="M0 -6.4 V-8.4 M0 6.7 V8.9"/>
</g>
<circle cx="325.4" cy="902.2" r="15.3" fill="#050505"/>
<text x="325.8" y="906.2" text-anchor="middle" fill="#f2f2f2" font-family="Liberation Sans" font-weight="bold" font-size="9.8" letter-spacing="-0.45">BUIDL</text>
<circle cx="454.3" cy="903" r="16" fill="url(#gy)"/>
<path d="M451.4 891.6 A11.6 11.6 0 0 0 451.4 914.4 M457.2 891.6 A11.6 11.6 0 0 1 457.2 914.4" fill="none" stroke="#fbe3c4" stroke-width="2"/>
<g transform="translate(454.3 903)" fill="none" stroke="#fbe3c4" stroke-width="1.8" stroke-linecap="round">
<path d="M2.8 -2.4 C2.5 -3.6 1.4 -4.2 0 -4.2 C-1.7 -4.2 -2.9 -3.4 -2.9 -2.1 C-2.9 -0.7 -1.6 -0.2 0 0.1 C1.7 0.4 3 0.9 3 2.4 C3 3.7 1.7 4.4 0 4.4 C-1.6 4.4 -2.8 3.7 -3 2.4"/>
<path d="M0 -4.2 V-6.2 M0 4.4 V6.4"/>
</g>
<circle cx="636" cy="903.2" r="15.8" fill="url(#gu)"/>
<path d="M630 895.6 L635.8 904.6" fill="none" stroke="#c9d2f2" stroke-width="3.2" stroke-linecap="butt"/>
<path d="M643.6 895.4 L634.6 910.6 H630" fill="none" stroke="#eef1fb" stroke-width="3.2" stroke-linecap="butt" stroke-linejoin="miter"/>
<g font-family="Liberation Sans" font-size="22" fill="#f4f4f4">
<text x="84.5" y="906" textLength="67.2" lengthAdjust="spacingAndGlyphs">sUSDS</text>
<text x="218" y="906" textLength="67.2" lengthAdjust="spacingAndGlyphs">sUSDe</text>
<text x="351" y="906" textLength="61.8" lengthAdjust="spacingAndGlyphs">BUIDL</text>
<text x="479.5" y="906" textLength="116" lengthAdjust="spacingAndGlyphs">syrupUSDC</text>
<text x="660.5" y="906" textLength="58" lengthAdjust="spacingAndGlyphs">USYC</text>
<text x="742.5" y="906" textLength="104" lengthAdjust="spacingAndGlyphs" fill="#cdcdcd">Other YBS</text>
</g>
<g stroke-width="4.6" stroke-linecap="round">
<line x1="86.8" y1="918.5" x2="149.2" y2="918.5" stroke="#c86a6a"/>
<line x1="220.8" y1="918.5" x2="281.8" y2="918.5" stroke="#5fa9a4"/>
<line x1="353.8" y1="918.5" x2="410.8" y2="918.5" stroke="#d8bb62"/>
<line x1="482.3" y1="918.5" x2="592.8" y2="918.5" stroke="#2e4d55"/>
<line x1="664.3" y1="918.5" x2="714.8" y2="918.5" stroke="#d69342"/>
</g>
</svg>
</body></html>
